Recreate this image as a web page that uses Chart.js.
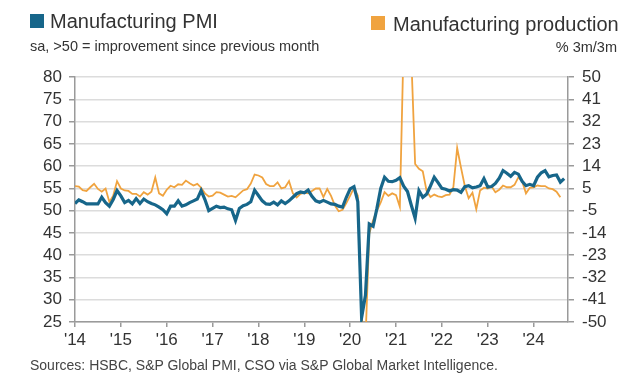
<!DOCTYPE html>
<html>
<head>
<meta charset="utf-8">
<script src="https://cdn.jsdelivr.net/npm/chart.js@4"></script>
<style>
  body { margin: 0; background: #fff; font-family: "Liberation Sans", Arial, sans-serif; color: #333; }
  #wrap { position: relative; width: 640px; height: 382px; overflow: hidden; }
  #chart { position: absolute; left: 0; top: 0; }
  .sq { position: absolute; width: 14px; height: 14px; }
  .t { position: absolute; white-space: nowrap; line-height: 1; }
</style>
</head>
<body>
<div id="wrap">
  <canvas id="chart" width="640" height="382"></canvas>
  <div class="sq" style="left:30px;top:14px;background:#17668a"></div>
  <div class="t" style="left:50px;top:11px;font-size:20px">Manufacturing PMI</div>
  <div class="t" style="left:30px;top:39px;font-size:14.5px">sa, &gt;50 = improvement since previous month</div>
  <div class="sq" style="left:371px;top:16px;background:#f0a33f"></div>
  <div class="t" style="left:393px;top:14px;font-size:20px">Manufacturing production</div>
  <div class="t" style="right:23px;top:40px;font-size:14.5px">% 3m/3m</div>
  <div class="t" style="left:30px;top:358px;font-size:14px;color:#444">Sources: HSBC, S&amp;P Global PMI, CSO via S&amp;P Global Market Intelligence.</div>
</div>
<script>
// months since Jan 2014
const yearLabels = ["'14", "'15", "'16", "'17", "'18", "'19", "'20", "'21", "'22", "'23", "'24"];
const leftTicks = [80, 75, 70, 65, 60, 55, 50, 45, 40, 35, 30, 25];
const rightTicks = [50, 41, 32, 23, 14, 5, -5, -14, -23, -32, -41, -50];

// Manufacturing PMI, sa
const pmi = [
  51.6, 52.4, 52.0, 51.5, 51.5, 51.5, 51.5, 53.0, 51.8, 51.0, 52.5, 54.5,
  53.3, 51.8, 52.3, 51.5, 52.7, 51.6, 52.6, 52.0, 51.6, 51.3, 50.8, 50.2,
  49.3, 51.0, 51.0, 52.2, 51.0, 51.3, 51.8, 52.2, 52.6, 54.5, 52.5, 50.0,
  50.5, 51.0, 50.7, 50.8, 50.4, 50.2, 47.8, 50.5, 51.1, 51.4, 52.0, 54.6,
  53.4, 52.2, 51.5, 51.4, 51.9, 51.3, 52.2, 51.6, 52.2, 53.0, 53.8, 54.2,
  54.0, 54.6, 53.2, 52.2, 51.9, 52.3, 51.9, 51.5, 51.4, 51.0, 50.8, 53.0,
  54.9, 55.4, 52.0, 26.0, 31.0, 47.0, 46.5, 50.5, 55.0, 57.5, 56.6, 56.5,
  56.8, 57.4, 55.5, 54.3, 51.2, 48.3, 54.5, 53.0, 53.7, 55.5, 57.5, 56.3,
  55.0, 54.8, 54.4, 54.7, 54.6, 54.1, 55.4, 55.6, 55.1, 55.3, 55.6, 57.2,
  55.3, 55.4, 56.1, 57.3, 59.0, 58.4, 57.7, 58.6, 58.2, 56.6, 55.6, 55.9,
  55.6, 57.5, 58.5, 59.0, 57.6, 57.9, 58.0, 56.4, 57.2
];

// Manufacturing production, % 3m/3m
const production = [
  5.5, 5.3, 3.8, 3.5, 5.0, 6.4, 4.3, 3.2, 4.5, -1.0, 1.5, 7.5,
  4.5, 3.7, 3.5, 2.3, 2.3, 1.2, 3.0, 2.0, 3.2, 9.0, 2.5, 1.5,
  4.0, 5.6, 5.0, 6.2, 6.0, 7.7, 6.6, 5.7, 6.4, 4.8, 2.5, 1.2,
  1.6, 3.0, 2.8, 2.0, 1.2, 1.5, 0.9, 2.3, 3.7, 4.2, 6.5, 10.2,
  9.8, 9.0, 6.3, 5.5, 5.5, 7.0, 4.5, 5.0, 7.5, 2.5, 0.8, 2.3,
  2.8, 2.5, 3.5, 4.5, 4.5, 1.0, 4.3, 1.5, -2.5, -4.8, -4.2, -1.5,
  1.6, 4.8, 1.5, -48, -58, -14, -8.5, -4.5, -1.2, 3.0, 1.5, 2.5,
  1.8, -3.0, 65, 100, 58, 14.5, 12.5, 11.5, 3.5, 1.0, 2.0, 1.3,
  1.0, 1.8, 2.0, 5.0, 21, 13, 5.5, 0.5, 2.8, -4.0, 3.7, 4.8,
  4.5, 5.3, 3.0, 4.0, 5.7, 5.0, 5.0, 6.0, 9.0, 7.5, 2.5, 4.8,
  5.0, 5.7, 5.5, 5.5, 4.5, 4.2, 3.2, 0.9
];

const BLUE = "#17668a";
const ORANGE = "#f0a33f";
const AXIS = "#9a9a9a";
const tickFont = { family: "'Liberation Sans', Arial, sans-serif", size: 17 };

let ctx = document.getElementById("chart");

new Chart(ctx, {
  type: "line",
  data: {
    datasets: [
      {
        label: "Manufacturing PMI",
        data: pmi.map((v, i) => ({ x: i, y: v })),
        yAxisID: "y",
        borderColor: BLUE,
        borderWidth: 3.2,
        pointRadius: 0,
        tension: 0
      },
      {
        label: "Manufacturing production",
        data: production.map((v, i) => ({ x: i, y: v })),
        yAxisID: "y1",
        borderColor: ORANGE,
        borderWidth: 1.8,
        pointRadius: 0,
        tension: 0
      }
    ]
  },
  options: {
    responsive: false,
    animation: false,
    layout: { padding: { top: 77, left: 0, right: 0, bottom: 0 } },
    plugins: { legend: { display: false }, tooltip: { enabled: false } },
    scales: {
      x: {
        type: "linear",
        min: 0,
        max: 129,
        afterBuildTicks: s => {
          s.ticks = yearLabels.map((l, i) => ({ value: i * 12 }));
        },
        ticks: {
          callback: (v, i) => yearLabels[i],
          autoSkip: false,
          maxRotation: 0,
          font: tickFont,
          color: "#333",
          padding: 3
        },
        grid: { drawOnChartArea: false, tickLength: 5, tickColor: AXIS, lineWidth: 1.5 },
        border: { color: AXIS, width: 1.5 },
        afterFit: s => { s.height = 60; }
      },
      y: {
        position: "left",
        min: 25,
        max: 80,
        afterBuildTicks: s => {
          s.ticks = leftTicks.map(v => ({ value: v }));
        },
        ticks: { font: tickFont, color: "#333", padding: 7, autoSkip: false },
        grid: { color: "#dcdcdc", lineWidth: 1.5, tickLength: 6, tickColor: AXIS },
        border: { color: AXIS, width: 1.5 },
        afterFit: s => { s.width = 75; }
      },
      y1: {
        position: "right",
        min: -50,
        max: 50,
        afterBuildTicks: s => {
          s.ticks = rightTicks.map((l, i) => ({ value: 50 - i * 100 / (rightTicks.length - 1) }));
        },
        ticks: {
          callback: (v, i) => rightTicks[i],
          autoSkip: false,
          font: tickFont,
          color: "#333",
          padding: 8
        },
        grid: { drawOnChartArea: false, tickLength: 6, tickColor: AXIS, lineWidth: 1.5 },
        border: { color: AXIS, width: 1.5 },
        afterFit: s => { s.width = 72; }
      }
    }
  }
});
</script>
</body>
</html>
